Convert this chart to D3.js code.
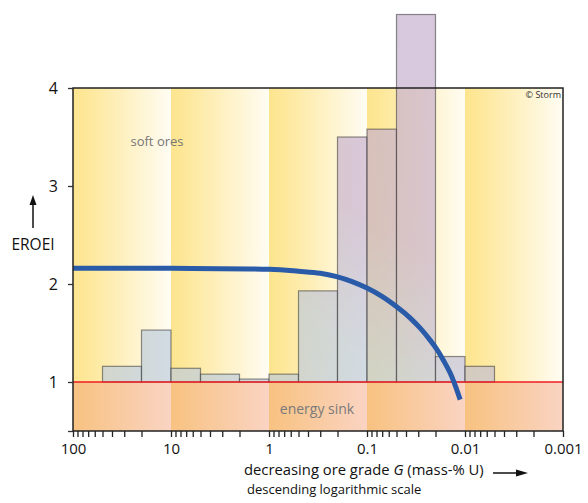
<!DOCTYPE html>
<html>
<head>
<meta charset="utf-8">
<script src="https://cdn.jsdelivr.net/npm/d3@7"></script>
<style>
  body { margin: 0; background: #fff; }
  svg { display: block; font-family: "Open Sans", sans-serif; }
</style>
</head>
<body>
<svg width="588" height="503"></svg>
<script>
// data
var binEdges = [50, 20, 10, 5, 2, 1, 0.5, 0.2, 0.1, 0.05, 0.02, 0.01, 0.005];
var binEroei = [1.16, 1.53, 1.14, 1.08, 1.03, 1.08, 1.93, 3.50, 3.58, 4.75, 1.26, 1.16];
var curveGrade = [100, 10, 1, 0.5, 0.3, 0.204, 0.142, 0.1, 0.0703, 0.0498, 0.0364, 0.0288, 0.0228, 0.0193, 0.0164, 0.0142, 0.01265, 0.0112];
var curveEroei = [2.16, 2.16, 2.15, 2.13, 2.11, 2.075, 2.024, 1.958, 1.873, 1.767, 1.655, 1.552, 1.43, 1.331, 1.212, 1.094, 0.971, 0.82];
var decades = [100, 10, 1, 0.1, 0.01, 0.001];
var xTickLabels = ["100", "10", "1", "0.1", "0.01", "0.001"];
var yTicks = [1, 2, 3, 4];

var margin = {top: 88, right: 25, bottom: 72, left: 73};
var width = 588, height = 503;

var x = d3.scaleLog()
    .domain([100, 0.001])
    .range([margin.left, width - margin.right]);
var y = d3.scaleLinear()
    .domain([0.5, 4])
    .range([height - margin.bottom, margin.top]);

var svg = d3.select('svg');
var defs = svg.append('defs');

function grad(id, stops, attrs) {
  var g = defs.append('linearGradient').attr('id', id);
  Object.keys(attrs || {}).forEach(function(k){ g.attr(k, attrs[k]); });
  stops.forEach(function(s){
    g.append('stop').attr('offset', s[0]).attr('stop-color', s[1]);
  });
}
grad('bandUp', [[0, '#fde58f'], [0.12, '#fde797'], [1, '#fffcf3']]);
grad('bandLow', [[0, '#f7c281'], [0.12, '#f8c488'], [1, '#fad4c3']]);
grad('barFill', [[0, '#bccbdc'], [0.15, '#bdcada'], [0.5, '#c6b0cd'], [1, '#c6aecd']],
  {gradientUnits: 'userSpaceOnUse', x1: 330, y1: 400, x2: 530, y2: 120});

// decade bands
var bands = d3.pairs(decades);
var bg = svg.append('g');
bg.selectAll('rect.up')
  .data(bands)
  .enter().append('rect')
  .attr('class', 'up')
  .attr('x', function(d){ return x(d[0]); })
  .attr('y', y(4))
  .attr('width', function(d){ return x(d[1]) - x(d[0]); })
  .attr('height', y(1) - y(4))
  .attr('fill', 'url(#bandUp)');
bg.selectAll('rect.low')
  .data(bands)
  .enter().append('rect')
  .attr('class', 'low')
  .attr('x', function(d){ return x(d[0]); })
  .attr('y', y(1))
  .attr('width', function(d){ return x(d[1]) - x(d[0]); })
  .attr('height', y(0.5) - y(1))
  .attr('fill', 'url(#bandLow)');

svg.append('text')
  .attr('x', 157).attr('y', 146)
  .attr('text-anchor', 'middle')
  .attr('font-size', 13)
  .attr('fill', '#777')
  .text('soft ores');
svg.append('text')
  .attr('x', 317).attr('y', 414)
  .attr('text-anchor', 'middle')
  .attr('font-size', 14)
  .attr('fill', '#7a7a7a')
  .text('energy sink');

// bars
var bars = binEroei.map(function(v, i){ return {g0: binEdges[i], g1: binEdges[i + 1], v: v}; });
svg.append('g').selectAll('rect')
  .data(bars)
  .enter().append('rect')
  .attr('x', function(d){ return x(d.g0); })
  .attr('y', function(d){ return y(d.v); })
  .attr('width', function(d){ return x(d.g1) - x(d.g0); })
  .attr('height', function(d){ return y(1) - y(d.v); })
  .attr('fill', 'url(#barFill)')
  .attr('fill-opacity', 0.68)
  .attr('stroke', '#333')
  .attr('stroke-opacity', 0.55)
  .attr('stroke-width', 1.2);

// energy break-even line
svg.append('line')
  .attr('x1', x(100)).attr('x2', x(0.001))
  .attr('y1', y(1)).attr('y2', y(1))
  .attr('stroke', '#ee1c24')
  .attr('stroke-width', 1.6);

// EROEI curve
var line = d3.line()
  .x(function(d){ return x(d[0]); })
  .y(function(d){ return y(d[1]); })
  .curve(d3.curveCatmullRom.alpha(0.5));
svg.append('path')
  .datum(d3.zip(curveGrade, curveEroei))
  .attr('d', line)
  .attr('fill', 'none')
  .attr('stroke', '#2a5ba8')
  .attr('stroke-width', 5);

// frame
svg.append('rect')
  .attr('x', x(100)).attr('y', y(4))
  .attr('width', x(0.001) - x(100))
  .attr('height', y(0.5) - y(4))
  .attr('fill', 'none')
  .attr('stroke', '#222')
  .attr('stroke-width', 1.5);

svg.append('text')
  .attr('x', 561).attr('y', 98)
  .attr('text-anchor', 'end')
  .attr('font-size', 9)
  .attr('fill', '#333')
  .text('\u00a9 Storm');

// axes
var minor = [];
decades.slice(0, -1).forEach(function(dec){
  for (var k = 9; k >= 1; k--) minor.push(dec / 10 * k);
});
minor.unshift(100);
var xAxis = d3.axisBottom(x)
  .tickValues(minor)
  .tickSize(6)
  .tickPadding(6)
  .tickFormat(function(d){
    var i = decades.findIndex(function(m){ return Math.abs(m - d) / m < 1e-6; });
    return i >= 0 ? xTickLabels[i] : '';
  });
var gx = svg.append('g')
  .attr('transform', 'translate(' + [0, y(0.5)] + ')')
  .call(xAxis);
gx.select('.domain').remove();
gx.selectAll('.tick line').attr('stroke', '#222').attr('stroke-width', 1.3);
gx.selectAll('.tick text').attr('font-size', 15).attr('fill', '#111')
  .attr('font-family', '"Open Sans", sans-serif');

var yAxis = d3.axisLeft(y)
  .tickValues([0.5].concat(yTicks))
  .tickSize(5)
  .tickPadding(10)
  .tickFormat(function(d){ return d === 0.5 ? '' : d3.format('d')(d); });
var gy = svg.append('g')
  .attr('transform', 'translate(' + [x(100), 0] + ')')
  .call(yAxis);
gy.select('.domain').remove();
gy.selectAll('.tick line').attr('stroke', '#333').attr('stroke-width', 1.3);
gy.selectAll('.tick text').attr('font-size', 16).attr('fill', '#111')
  .attr('font-family', '"Open Sans", sans-serif');

// axis titles
svg.append('text')
  .attr('x', 33).attr('y', 250)
  .attr('text-anchor', 'middle')
  .attr('font-size', 15.5)
  .attr('fill', '#111')
  .text('EROEI');
svg.append('line')
  .attr('x1', 33).attr('x2', 33)
  .attr('y1', 228).attr('y2', 203)
  .attr('stroke', '#111').attr('stroke-width', 1.5);
svg.append('path')
  .attr('d', 'M33,195 L29.5,205 L36.5,205 Z')
  .attr('fill', '#111');

var xt = svg.append('text')
  .attr('x', 244).attr('y', 475)
  .attr('font-size', 14.8)
  .attr('fill', '#111');
xt.append('tspan').text('decreasing ore grade ');
xt.append('tspan').attr('font-style', 'italic').text('G');
xt.append('tspan').text(' (mass-% U)');
svg.append('line')
  .attr('x1', 493).attr('x2', 518)
  .attr('y1', 473).attr('y2', 473)
  .attr('stroke', '#111').attr('stroke-width', 1.5);
svg.append('path')
  .attr('d', 'M528,473 L516,469.5 L516,476.5 Z')
  .attr('fill', '#111');
svg.append('text')
  .attr('x', 247).attr('y', 494)
  .attr('font-size', 13)
  .attr('fill', '#111')
  .text('descending logarithmic scale');
</script>
</body>
</html>
